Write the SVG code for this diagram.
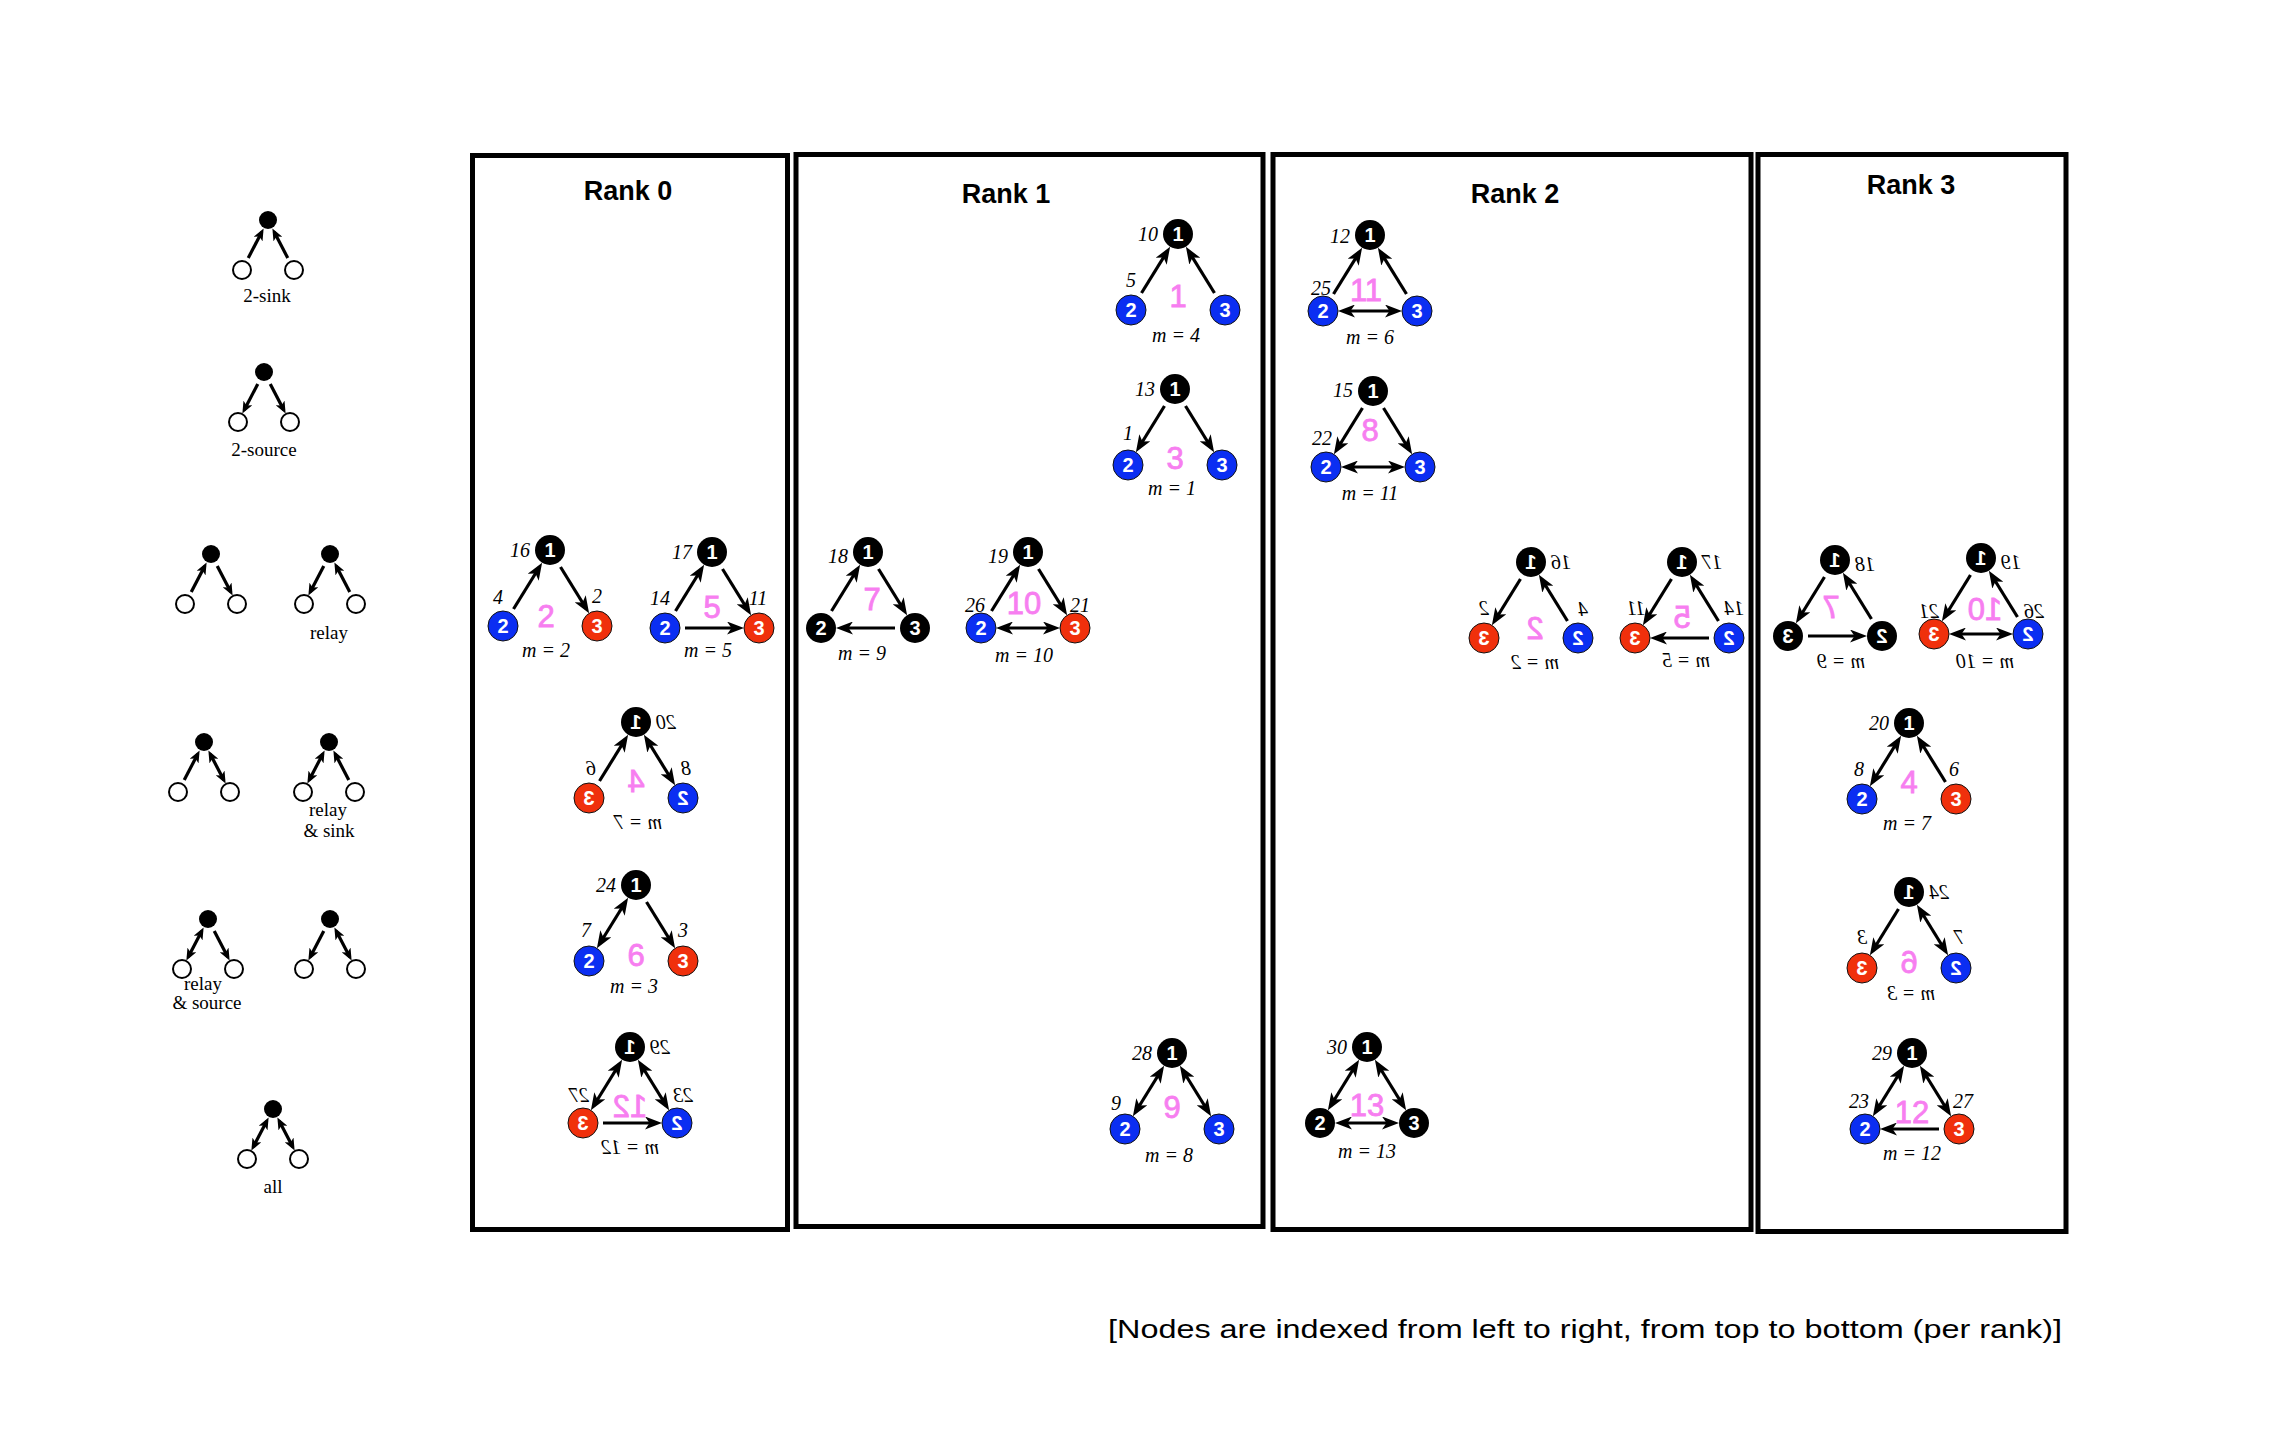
<svg xmlns="http://www.w3.org/2000/svg" width="2280" height="1432" viewBox="0 0 2280 1432">
<style>
.box{fill:none;stroke:#000;stroke-width:5}
.title{font-family:"Liberation Sans",Arial,sans-serif;font-weight:bold;font-size:27px;text-anchor:middle}
.lg{font-family:"Liberation Serif","Times New Roman",serif;font-size:19px;text-anchor:middle}
.e{stroke:#000;stroke-width:3.2;fill:none}
.a{marker-end:url(#ah)}
.aa{marker-start:url(#ah);marker-end:url(#ah)}
.s{marker-end:url(#ahs)}
.ss{marker-start:url(#ahs);marker-end:url(#ahs)}
.lb{font-family:"Liberation Serif","Times New Roman",serif;font-style:italic;font-size:20px}
.lt{text-anchor:end}
.lm{text-anchor:middle}
.pk{font-family:"Liberation Sans",Arial,sans-serif;font-size:31px;fill:#f77ef0;stroke:#f77ef0;stroke-width:0.8;text-anchor:middle}
.nl{font-family:"Liberation Sans",Arial,sans-serif;font-weight:bold;font-size:20px;fill:#fff;text-anchor:middle}
.bk{fill:#000}
.bl{fill:#0b2ef2;stroke:#111;stroke-width:1}
.rd{fill:#f0300c;stroke:#111;stroke-width:1}
.ho{fill:#fff;stroke:#000;stroke-width:2}
.ft{font-family:"Liberation Sans",Arial,sans-serif;font-size:26px}
</style>
<defs>
<marker id="ah" viewBox="0 0 17 13" refX="12" refY="6.5" markerWidth="17" markerHeight="13" markerUnits="userSpaceOnUse" orient="auto-start-reverse"><path d="M0,0 L17,6.5 L0,13 L4.5,6.5 z" fill="#000"/></marker>
<marker id="ahs" viewBox="0 0 12 10" refX="8" refY="5" markerWidth="12" markerHeight="10" markerUnits="userSpaceOnUse" orient="auto-start-reverse"><path d="M0,0 L12,5 L0,10 L3,5 z" fill="#000"/></marker>
</defs>
<rect width="2280" height="1432" fill="#fff"/>

<!-- rank boxes -->
<g id="boxes">
<rect class="box" x="472.5" y="155.5" width="315" height="1074"/>
<rect class="box" x="796" y="154.5" width="467" height="1072"/>
<rect class="box" x="1273" y="154.5" width="478" height="1075"/>
<rect class="box" x="1758" y="154.5" width="308" height="1077"/>
<text class="title" x="628" y="200">Rank 0</text>
<text class="title" x="1006" y="203">Rank 1</text>
<text class="title" x="1515" y="203">Rank 2</text>
<text class="title" x="1911" y="194">Rank 3</text>
</g>

<!-- connectors -->
<g id="connectors">
<!-- legend -->
<g transform="translate(268,220)"><path class="e s" d="M-19.77,38.02 L-6.23,11.98"/><path class="e s" d="M19.77,38.02 L6.23,11.98"/></g>
<g transform="translate(264,372)"><path class="e s" d="M-6.23,11.98 L-19.77,38.02"/><path class="e s" d="M6.23,11.98 L19.77,38.02"/></g>
<g transform="translate(211,554)"><path class="e s" d="M-19.77,38.02 L-6.23,11.98"/><path class="e s" d="M6.23,11.98 L19.77,38.02"/></g>
<g transform="translate(330,554)"><path class="e s" d="M-6.23,11.98 L-19.77,38.02"/><path class="e s" d="M19.77,38.02 L6.23,11.98"/></g>
<g transform="translate(204,742)"><path class="e s" d="M-19.77,38.02 L-6.23,11.98"/><path class="e ss" d="M6.23,11.98 L19.77,38.02"/></g>
<g transform="translate(329,742)"><path class="e ss" d="M-19.77,38.02 L-6.23,11.98"/><path class="e s" d="M19.77,38.02 L6.23,11.98"/></g>
<g transform="translate(208,919)"><path class="e ss" d="M-19.77,38.02 L-6.23,11.98"/><path class="e s" d="M6.23,11.98 L19.77,38.02"/></g>
<g transform="translate(330,919)"><path class="e s" d="M-6.23,11.98 L-19.77,38.02"/><path class="e ss" d="M6.23,11.98 L19.77,38.02"/></g>
<g transform="translate(273,1109)"><path class="e ss" d="M-19.77,38.02 L-6.23,11.98"/><path class="e ss" d="M19.77,38.02 L6.23,11.98"/></g>
<!-- rank 0 -->
<g transform="translate(550,550)"><path class="e a" d="M-36.48,58.99 L-10.52,17.01"/><path class="e a" d="M10.52,17.01 L36.48,58.99"/></g>
<g transform="translate(712,552)"><path class="e a" d="M-36.48,58.99 L-10.52,17.01"/><path class="e a" d="M10.52,17.01 L36.48,58.99"/><path class="e a" d="M-27,76 L27,76"/></g>
<g transform="translate(636,722) scale(-1,1)"><path class="e aa" d="M-36.48,58.99 L-10.52,17.01"/><path class="e a" d="M36.48,58.99 L10.52,17.01"/></g>
<g transform="translate(636,885)"><path class="e aa" d="M-36.48,58.99 L-10.52,17.01"/><path class="e a" d="M10.52,17.01 L36.48,58.99"/></g>
<g transform="translate(630,1047) scale(-1,1)"><path class="e aa" d="M-36.48,58.99 L-10.52,17.01"/><path class="e aa" d="M36.48,58.99 L10.52,17.01"/><path class="e a" d="M27,76 L-27,76"/></g>
<!-- rank 1 -->
<g transform="translate(1178,234)"><path class="e a" d="M-36.48,58.99 L-10.52,17.01"/><path class="e a" d="M36.48,58.99 L10.52,17.01"/></g>
<g transform="translate(1175,389)"><path class="e a" d="M-10.52,17.01 L-36.48,58.99"/><path class="e a" d="M10.52,17.01 L36.48,58.99"/></g>
<g transform="translate(868,552)"><path class="e a" d="M-36.48,58.99 L-10.52,17.01"/><path class="e a" d="M10.52,17.01 L36.48,58.99"/><path class="e a" d="M27,76 L-27,76"/></g>
<g transform="translate(1028,552)"><path class="e a" d="M-36.48,58.99 L-10.52,17.01"/><path class="e a" d="M10.52,17.01 L36.48,58.99"/><path class="e aa" d="M-27,76 L27,76"/></g>
<g transform="translate(1172,1053)"><path class="e aa" d="M-36.48,58.99 L-10.52,17.01"/><path class="e aa" d="M36.48,58.99 L10.52,17.01"/></g>
<!-- rank 2 -->
<g transform="translate(1370,235)"><path class="e a" d="M-36.48,58.99 L-10.52,17.01"/><path class="e a" d="M36.48,58.99 L10.52,17.01"/><path class="e aa" d="M-27,76 L27,76"/></g>
<g transform="translate(1373,391)"><path class="e a" d="M-10.52,17.01 L-36.48,58.99"/><path class="e a" d="M10.52,17.01 L36.48,58.99"/><path class="e aa" d="M-27,76 L27,76"/></g>
<g transform="translate(1531,562) scale(-1,1)"><path class="e a" d="M-36.48,58.99 L-10.52,17.01"/><path class="e a" d="M10.52,17.01 L36.48,58.99"/></g>
<g transform="translate(1682,562) scale(-1,1)"><path class="e a" d="M-36.48,58.99 L-10.52,17.01"/><path class="e a" d="M10.52,17.01 L36.48,58.99"/><path class="e a" d="M-27,76 L27,76"/></g>
<g transform="translate(1367,1047)"><path class="e aa" d="M-36.48,58.99 L-10.52,17.01"/><path class="e aa" d="M36.48,58.99 L10.52,17.01"/><path class="e aa" d="M-27,76 L27,76"/></g>
<!-- rank 3 -->
<g transform="translate(1835,560) scale(-1,1)"><path class="e a" d="M-36.48,58.99 L-10.52,17.01"/><path class="e a" d="M10.52,17.01 L36.48,58.99"/><path class="e a" d="M27,76 L-27,76"/></g>
<g transform="translate(1981,558) scale(-1,1)"><path class="e a" d="M-36.48,58.99 L-10.52,17.01"/><path class="e a" d="M10.52,17.01 L36.48,58.99"/><path class="e aa" d="M-27,76 L27,76"/></g>
<g transform="translate(1909,723)"><path class="e aa" d="M-36.48,58.99 L-10.52,17.01"/><path class="e a" d="M36.48,58.99 L10.52,17.01"/></g>
<g transform="translate(1909,892) scale(-1,1)"><path class="e aa" d="M-36.48,58.99 L-10.52,17.01"/><path class="e a" d="M10.52,17.01 L36.48,58.99"/></g>
<g transform="translate(1912,1053)"><path class="e aa" d="M-36.48,58.99 L-10.52,17.01"/><path class="e aa" d="M36.48,58.99 L10.52,17.01"/><path class="e a" d="M27,76 L-27,76"/></g>
</g>

<!-- legend nodes -->
<g id="leg-2sink" transform="translate(268,220)"><circle class="bk" r="9"/><circle class="ho" cx="-26" cy="50" r="9"/><circle class="ho" cx="26" cy="50" r="9"/><text class="lg" x="-1" y="82">2-sink</text></g>
<g id="leg-2source" transform="translate(264,372)"><circle class="bk" r="9"/><circle class="ho" cx="-26" cy="50" r="9"/><circle class="ho" cx="26" cy="50" r="9"/><text class="lg" x="0" y="84">2-source</text></g>
<g id="leg-in-out" transform="translate(211,554)"><circle class="bk" r="9"/><circle class="ho" cx="-26" cy="50" r="9"/><circle class="ho" cx="26" cy="50" r="9"/></g>
<g id="leg-relay" transform="translate(330,554)"><circle class="bk" r="9"/><circle class="ho" cx="-26" cy="50" r="9"/><circle class="ho" cx="26" cy="50" r="9"/><text class="lg" x="-1" y="85">relay</text></g>
<g id="leg-in-bi" transform="translate(204,742)"><circle class="bk" r="9"/><circle class="ho" cx="-26" cy="50" r="9"/><circle class="ho" cx="26" cy="50" r="9"/></g>
<g id="leg-relay-sink" transform="translate(329,742)"><circle class="bk" r="9"/><circle class="ho" cx="-26" cy="50" r="9"/><circle class="ho" cx="26" cy="50" r="9"/><text class="lg" x="-1" y="74">relay</text><text class="lg" x="0" y="95">&amp; sink</text></g>
<g id="leg-relay-source" transform="translate(208,919)"><circle class="bk" r="9"/><circle class="ho" cx="-26" cy="50" r="9"/><circle class="ho" cx="26" cy="50" r="9"/><text class="lg" x="-5" y="71">relay</text><text class="lg" x="-1" y="90">&amp; source</text></g>
<g id="leg-out-bi" transform="translate(330,919)"><circle class="bk" r="9"/><circle class="ho" cx="-26" cy="50" r="9"/><circle class="ho" cx="26" cy="50" r="9"/></g>
<g id="leg-all" transform="translate(273,1109)"><circle class="bk" r="9"/><circle class="ho" cx="-26" cy="50" r="9"/><circle class="ho" cx="26" cy="50" r="9"/><text class="lg" x="0" y="84">all</text></g>

<!-- Rank 0 motifs -->
<g id="r0-m2" transform="translate(550,550)">
<g id="r0-m2-n1"><circle class="bk" r="15"/><text class="nl" y="7">1</text></g>
<g id="r0-m2-n2"><circle class="bl" cx="-47" cy="76" r="15"/><text class="nl" x="-47" y="83">2</text></g>
<g id="r0-m2-n3"><circle class="rd" cx="47" cy="76" r="15"/><text class="nl" x="47" y="83">3</text></g>
<text class="lb lt" x="-20" y="7">16</text><text class="lb lm" x="-52" y="54">4</text><text class="lb lm" x="47" y="53">2</text>
<text class="pk" x="-4" y="77">2</text><text class="lb lm" x="-4" y="107">m = 2</text>
</g>
<g id="r0-m5" transform="translate(712,552)">
<g id="r0-m5-n1"><circle class="bk" r="15"/><text class="nl" y="7">1</text></g>
<g id="r0-m5-n2"><circle class="bl" cx="-47" cy="76" r="15"/><text class="nl" x="-47" y="83">2</text></g>
<g id="r0-m5-n3"><circle class="rd" cx="47" cy="76" r="15"/><text class="nl" x="47" y="83">3</text></g>
<text class="lb lt" x="-20" y="7">17</text><text class="lb lm" x="-52" y="53">14</text><text class="lb lm" x="46" y="53">11</text>
<text class="pk" x="0" y="66">5</text><text class="lb lm" x="-4" y="105">m = 5</text>
</g>
<g id="r0-m7" transform="translate(636,722) scale(-1,1)">
<g id="r0-m7-n1"><circle class="bk" r="15"/><text class="nl" y="7">1</text></g>
<g id="r0-m7-n2"><circle class="bl" cx="-47" cy="76" r="15"/><text class="nl" x="-47" y="83">2</text></g>
<g id="r0-m7-n3"><circle class="rd" cx="47" cy="76" r="15"/><text class="nl" x="47" y="83">3</text></g>
<text class="lb lt" x="-20" y="7">20</text><text class="lb lm" x="-50" y="53">8</text><text class="lb lm" x="45" y="53">6</text>
<text class="pk" x="0" y="70">4</text><text class="lb lm" x="-2" y="107">m = 7</text>
</g>
<g id="r0-m3" transform="translate(636,885)">
<g id="r0-m3-n1"><circle class="bk" r="15"/><text class="nl" y="7">1</text></g>
<g id="r0-m3-n2"><circle class="bl" cx="-47" cy="76" r="15"/><text class="nl" x="-47" y="83">2</text></g>
<g id="r0-m3-n3"><circle class="rd" cx="47" cy="76" r="15"/><text class="nl" x="47" y="83">3</text></g>
<text class="lb lt" x="-20" y="7">24</text><text class="lb lm" x="-50" y="52">7</text><text class="lb lm" x="47" y="52">3</text>
<text class="pk" x="0" y="81">6</text><text class="lb lm" x="-2" y="108">m = 3</text>
</g>
<g id="r0-m12" transform="translate(630,1047) scale(-1,1)">
<g id="r0-m12-n1"><circle class="bk" r="15"/><text class="nl" y="7">1</text></g>
<g id="r0-m12-n2"><circle class="bl" cx="-47" cy="76" r="15"/><text class="nl" x="-47" y="83">2</text></g>
<g id="r0-m12-n3"><circle class="rd" cx="47" cy="76" r="15"/><text class="nl" x="47" y="83">3</text></g>
<text class="lb lt" x="-20" y="7">29</text><text class="lb lm" x="-53" y="55">23</text><text class="lb lm" x="51" y="55">27</text>
<text class="pk" x="0" y="70">12</text><text class="lb lm" x="0" y="107">m = 12</text>
</g>

<!-- Rank 1 motifs -->
<g id="r1-m4" transform="translate(1178,234)">
<g id="r1-m4-n1"><circle class="bk" r="15"/><text class="nl" y="7">1</text></g>
<g id="r1-m4-n2"><circle class="bl" cx="-47" cy="76" r="15"/><text class="nl" x="-47" y="83">2</text></g>
<g id="r1-m4-n3"><circle class="bl" cx="47" cy="76" r="15"/><text class="nl" x="47" y="83">3</text></g>
<text class="lb lt" x="-20" y="7">10</text><text class="lb lm" x="-47" y="53">5</text>
<text class="pk" x="0" y="73">1</text><text class="lb lm" x="-2" y="108">m = 4</text>
</g>
<g id="r1-m1" transform="translate(1175,389)">
<g id="r1-m1-n1"><circle class="bk" r="15"/><text class="nl" y="7">1</text></g>
<g id="r1-m1-n2"><circle class="bl" cx="-47" cy="76" r="15"/><text class="nl" x="-47" y="83">2</text></g>
<g id="r1-m1-n3"><circle class="bl" cx="47" cy="76" r="15"/><text class="nl" x="47" y="83">3</text></g>
<text class="lb lt" x="-20" y="7">13</text><text class="lb lm" x="-47" y="51">1</text>
<text class="pk" x="0" y="80">3</text><text class="lb lm" x="-3" y="106">m = 1</text>
</g>
<g id="r1-m9" transform="translate(868,552)">
<g id="r1-m9-n1"><circle class="bk" r="15"/><text class="nl" y="7">1</text></g>
<g id="r1-m9-n2"><circle class="bk" cx="-47" cy="76" r="15"/><text class="nl" x="-47" y="83">2</text></g>
<g id="r1-m9-n3"><circle class="bk" cx="47" cy="76" r="15"/><text class="nl" x="47" y="83">3</text></g>
<text class="lb lt" x="-20" y="11">18</text>
<text class="pk" x="4" y="58">7</text><text class="lb lm" x="-6" y="108">m = 9</text>
</g>
<g id="r1-m10" transform="translate(1028,552)">
<g id="r1-m10-n1"><circle class="bk" r="15"/><text class="nl" y="7">1</text></g>
<g id="r1-m10-n2"><circle class="bl" cx="-47" cy="76" r="15"/><text class="nl" x="-47" y="83">2</text></g>
<g id="r1-m10-n3"><circle class="rd" cx="47" cy="76" r="15"/><text class="nl" x="47" y="83">3</text></g>
<text class="lb lt" x="-20" y="11">19</text><text class="lb lm" x="-53" y="60">26</text><text class="lb lm" x="52" y="60">21</text>
<text class="pk" x="-4" y="62">10</text><text class="lb lm" x="-4" y="110">m = 10</text>
</g>
<g id="r1-m8" transform="translate(1172,1053)">
<g id="r1-m8-n1"><circle class="bk" r="15"/><text class="nl" y="7">1</text></g>
<g id="r1-m8-n2"><circle class="bl" cx="-47" cy="76" r="15"/><text class="nl" x="-47" y="83">2</text></g>
<g id="r1-m8-n3"><circle class="bl" cx="47" cy="76" r="15"/><text class="nl" x="47" y="83">3</text></g>
<text class="lb lt" x="-20" y="7">28</text><text class="lb lm" x="-56" y="57">9</text>
<text class="pk" x="0" y="65">9</text><text class="lb lm" x="-3" y="109">m = 8</text>
</g>

<!-- Rank 2 motifs -->
<g id="r2-m6" transform="translate(1370,235)">
<g id="r2-m6-n1"><circle class="bk" r="15"/><text class="nl" y="7">1</text></g>
<g id="r2-m6-n2"><circle class="bl" cx="-47" cy="76" r="15"/><text class="nl" x="-47" y="83">2</text></g>
<g id="r2-m6-n3"><circle class="bl" cx="47" cy="76" r="15"/><text class="nl" x="47" y="83">3</text></g>
<text class="lb lt" x="-20" y="8">12</text><text class="lb lm" x="-49" y="60">25</text>
<text class="pk" x="-4" y="66">11</text><text class="lb lm" x="0" y="109">m = 6</text>
</g>
<g id="r2-m11" transform="translate(1373,391)">
<g id="r2-m11-n1"><circle class="bk" r="15"/><text class="nl" y="7">1</text></g>
<g id="r2-m11-n2"><circle class="bl" cx="-47" cy="76" r="15"/><text class="nl" x="-47" y="83">2</text></g>
<g id="r2-m11-n3"><circle class="bl" cx="47" cy="76" r="15"/><text class="nl" x="47" y="83">3</text></g>
<text class="lb lt" x="-20" y="6">15</text><text class="lb lm" x="-51" y="54">22</text>
<text class="pk" x="-3" y="50">8</text><text class="lb lm" x="-3" y="109">m = 11</text>
</g>
<g id="r2-m2" transform="translate(1531,562) scale(-1,1)">
<g id="r2-m2-n1"><circle class="bk" r="15"/><text class="nl" y="7">1</text></g>
<g id="r2-m2-n2"><circle class="bl" cx="-47" cy="76" r="15"/><text class="nl" x="-47" y="83">2</text></g>
<g id="r2-m2-n3"><circle class="rd" cx="47" cy="76" r="15"/><text class="nl" x="47" y="83">3</text></g>
<text class="lb lt" x="-20" y="7">16</text><text class="lb lm" x="-52" y="54">4</text><text class="lb lm" x="47" y="53">2</text>
<text class="pk" x="-4" y="77">2</text><text class="lb lm" x="-4" y="107">m = 2</text>
</g>
<g id="r2-m5" transform="translate(1682,562) scale(-1,1)">
<g id="r2-m5-n1"><circle class="bk" r="15"/><text class="nl" y="7">1</text></g>
<g id="r2-m5-n2"><circle class="bl" cx="-47" cy="76" r="15"/><text class="nl" x="-47" y="83">2</text></g>
<g id="r2-m5-n3"><circle class="rd" cx="47" cy="76" r="15"/><text class="nl" x="47" y="83">3</text></g>
<text class="lb lt" x="-20" y="7">17</text><text class="lb lm" x="-52" y="53">14</text><text class="lb lm" x="46" y="53">11</text>
<text class="pk" x="0" y="66">5</text><text class="lb lm" x="-4" y="105">m = 5</text>
</g>
<g id="r2-m13" transform="translate(1367,1047)">
<g id="r2-m13-n1"><circle class="bk" r="15"/><text class="nl" y="7">1</text></g>
<g id="r2-m13-n2"><circle class="bk" cx="-47" cy="76" r="15"/><text class="nl" x="-47" y="83">2</text></g>
<g id="r2-m13-n3"><circle class="bk" cx="47" cy="76" r="15"/><text class="nl" x="47" y="83">3</text></g>
<text class="lb lt" x="-20" y="7">30</text>
<text class="pk" x="0" y="69">13</text><text class="lb lm" x="0" y="111">m = 13</text>
</g>

<!-- Rank 3 motifs -->
<g id="r3-m9" transform="translate(1835,560) scale(-1,1)">
<g id="r3-m9-n1"><circle class="bk" r="15"/><text class="nl" y="7">1</text></g>
<g id="r3-m9-n2"><circle class="bk" cx="-47" cy="76" r="15"/><text class="nl" x="-47" y="83">2</text></g>
<g id="r3-m9-n3"><circle class="bk" cx="47" cy="76" r="15"/><text class="nl" x="47" y="83">3</text></g>
<text class="lb lt" x="-20" y="11">18</text>
<text class="pk" x="4" y="58">7</text><text class="lb lm" x="-6" y="108">m = 9</text>
</g>
<g id="r3-m10" transform="translate(1981,558) scale(-1,1)">
<g id="r3-m10-n1"><circle class="bk" r="15"/><text class="nl" y="7">1</text></g>
<g id="r3-m10-n2"><circle class="bl" cx="-47" cy="76" r="15"/><text class="nl" x="-47" y="83">2</text></g>
<g id="r3-m10-n3"><circle class="rd" cx="47" cy="76" r="15"/><text class="nl" x="47" y="83">3</text></g>
<text class="lb lt" x="-20" y="11">19</text><text class="lb lm" x="-53" y="60">26</text><text class="lb lm" x="52" y="60">21</text>
<text class="pk" x="-4" y="62">10</text><text class="lb lm" x="-4" y="110">m = 10</text>
</g>
<g id="r3-m7" transform="translate(1909,723)">
<g id="r3-m7-n1"><circle class="bk" r="15"/><text class="nl" y="7">1</text></g>
<g id="r3-m7-n2"><circle class="bl" cx="-47" cy="76" r="15"/><text class="nl" x="-47" y="83">2</text></g>
<g id="r3-m7-n3"><circle class="rd" cx="47" cy="76" r="15"/><text class="nl" x="47" y="83">3</text></g>
<text class="lb lt" x="-20" y="7">20</text><text class="lb lm" x="-50" y="53">8</text><text class="lb lm" x="45" y="53">6</text>
<text class="pk" x="0" y="70">4</text><text class="lb lm" x="-2" y="107">m = 7</text>
</g>
<g id="r3-m3" transform="translate(1909,892) scale(-1,1)">
<g id="r3-m3-n1"><circle class="bk" r="15"/><text class="nl" y="7">1</text></g>
<g id="r3-m3-n2"><circle class="bl" cx="-47" cy="76" r="15"/><text class="nl" x="-47" y="83">2</text></g>
<g id="r3-m3-n3"><circle class="rd" cx="47" cy="76" r="15"/><text class="nl" x="47" y="83">3</text></g>
<text class="lb lt" x="-20" y="7">24</text><text class="lb lm" x="-50" y="52">7</text><text class="lb lm" x="47" y="52">3</text>
<text class="pk" x="0" y="81">6</text><text class="lb lm" x="-2" y="108">m = 3</text>
</g>
<g id="r3-m12" transform="translate(1912,1053)">
<g id="r3-m12-n1"><circle class="bk" r="15"/><text class="nl" y="7">1</text></g>
<g id="r3-m12-n2"><circle class="bl" cx="-47" cy="76" r="15"/><text class="nl" x="-47" y="83">2</text></g>
<g id="r3-m12-n3"><circle class="rd" cx="47" cy="76" r="15"/><text class="nl" x="47" y="83">3</text></g>
<text class="lb lt" x="-20" y="7">29</text><text class="lb lm" x="-53" y="55">23</text><text class="lb lm" x="51" y="55">27</text>
<text class="pk" x="0" y="70">12</text><text class="lb lm" x="0" y="107">m = 12</text>
</g>

<text class="ft" x="1108" y="1338" textLength="954" lengthAdjust="spacingAndGlyphs">[Nodes are indexed from left to right, from top to bottom (per rank)]</text>
</svg>
